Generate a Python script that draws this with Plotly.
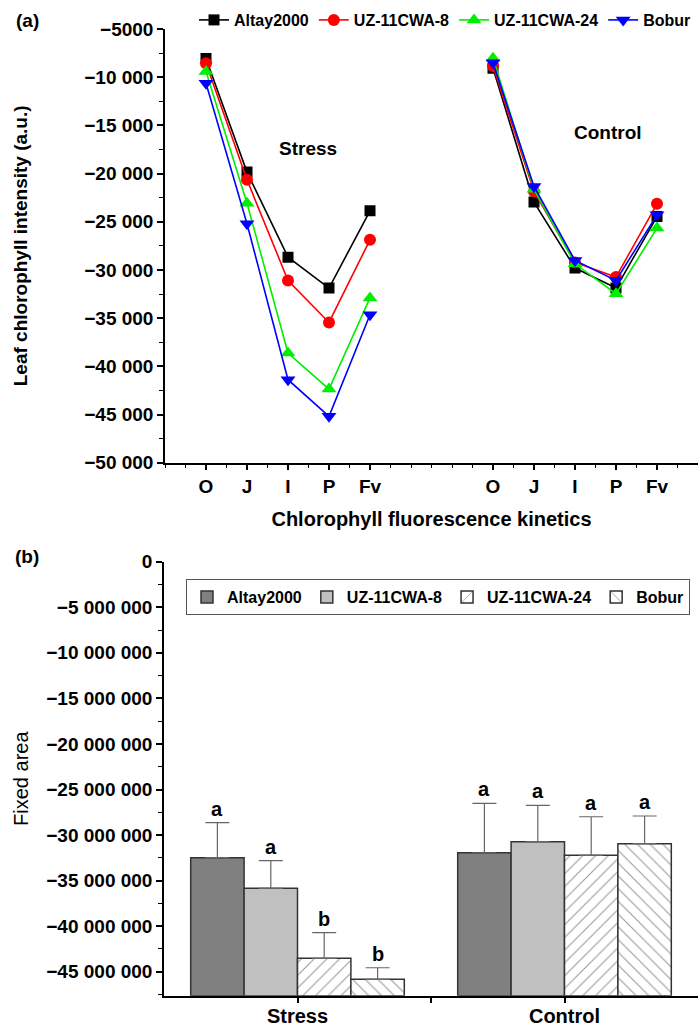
import plotly.graph_objects as go

W, H = 698, 1031

# ---------------- data ----------------
stages = ["O", "J", "I", "P", "Fv"]
cultivars = ["Altay2000", "UZ-11CWA-8", "UZ-11CWA-24", "Bobur"]

stress_altay = [-8060, -19850, -28670, -31880, -23870]
stress_uz8 = [-8550, -20650, -31090, -35450, -26870]
stress_uz24 = [-9420, -23070, -38620, -42360, -32900]
stress_bobur = [-10620, -25210, -41390, -45190, -34650]

control_altay = [-9070, -22960, -29800, -31880, -24460]
control_uz8 = [-8830, -21860, -29220, -30740, -23140]
control_uz24 = [-8030, -21620, -29360, -32470, -25660]
control_bobur = [-8490, -21340, -29020, -31090, -24280]

conditions = ["Stress", "Control"]
area_altay = [-32480000, -31940000]
area_uz8 = [-35850000, -30730000]
area_uz24 = [-43530000, -32220000]
area_bobur = [-45830000, -30950000]
err_altay = [3840000, 5420000]
err_uz8 = [3040000, 3990000]
err_uz24 = [2820000, 4230000]
err_bobur = [1270000, 3040000]
letters_altay = ["a", "a"]
letters_uz8 = ["a", "a"]
letters_uz24 = ["b", "a"]
letters_bobur = ["b", "a"]

# ---------------- styles ----------------
FONT = "Liberation Sans, Arial, sans-serif"
line_colors = ["#000000", "#ff0000", "#00ee00", "#0000ff"]
symbols = ["square", "circle", "triangle-up", "triangle-down"]
msizes = [11, 12, 13, 13]
Y2_MIN = -47630000

fig = go.Figure()

# ---------------- panel (a) ----------------
stress_sets = [stress_altay, stress_uz8, stress_uz24, stress_bobur]
control_sets = [control_altay, control_uz8, control_uz24, control_bobur]
n = len(stages)
x_stress = [i + 1 for i in range(n)]
x_control = [i + n + 3 for i in range(n)]

for k, name in enumerate(cultivars):
    fig.add_trace(go.Scatter(
        x=x_stress + [None] + x_control,
        y=stress_sets[k] + [None] + control_sets[k],
        mode="lines+markers",
        name=name,
        line=dict(color=line_colors[k], width=1.6),
        marker=dict(symbol=symbols[k], size=msizes[k], color=line_colors[k]),
        xaxis="x", yaxis="y",
        legend="legend",
    ))

# ---------------- panel (b) ----------------
areas = [area_altay, area_uz8, area_uz24, area_bobur]
errs = [err_altay, err_uz8, err_uz24, err_bobur]
letters = [letters_altay, letters_uz8, letters_uz24, letters_bobur]
bar_fill = ["#808080", "#c0c0c0", "#ffffff", "#ffffff"]
patterns = ["", "", "/", "\\"]
xc = list(range(len(conditions)))

for k, name in enumerate(cultivars):
    fig.add_trace(go.Bar(
        x=xc, y=[v - Y2_MIN for v in areas[k]], base=[Y2_MIN] * len(xc), name=name,
        marker=dict(color=bar_fill[k],
                    line=dict(color="#333333", width=1.5),
                    pattern=dict(shape=patterns[k], fgcolor="#333333",
                                 bgcolor="#ffffff", size=9, solidity=0.12)),
        error_y=dict(type="data", array=errs[k], arrayminus=[0] * len(errs[k]),
                     symmetric=False, color="#666666", thickness=1.2, width=12),
        xaxis="x2", yaxis="y2",
        legend="legend2",
    ))

nb = len(cultivars)
gap = 0.2
bw = (1 - gap) / nb
annotations = []
for k in range(nb):
    for i in xc:
        annotations.append(dict(
            x=i + (k - (nb - 1) / 2) * bw, y=areas[k][i] + errs[k][i],
            xref="x2", yref="y2", text=letters[k][i], showarrow=False,
            yanchor="bottom", yshift=1,
            font=dict(family=FONT, size=20, color="black", weight="bold")))

paper_notes = [
    ("Stress", 308, 148),
    ("Control", 608, 132),
    ("(a)", 27, 20),
    ("(b)", 27, 556),
]
for txt, px, py in paper_notes:
    annotations.append(dict(
        x=px / W, y=1 - py / H, xref="paper", yref="paper", text=txt,
        showarrow=False, xanchor="center", yanchor="middle",
        font=dict(family=FONT, size=19, color="black", weight="bold")))

tick_font = dict(family=FONT, size=19, color="black", weight="bold")
title_font = dict(family=FONT, size=19, color="black", weight="bold")

def px_x(p):
    return p / W

def px_y(p):
    return 1 - p / H

common = dict(showline=True, linecolor="black", linewidth=1.5,
              ticks="outside", ticklen=6, tickwidth=1.5, tickcolor="black",
              showgrid=False, zeroline=False, automargin=False,
              exponentformat="none")

fig.update_layout(
    width=W, height=H,
    margin=dict(l=0, r=0, t=0, b=0, autoexpand=False),
    paper_bgcolor="white", plot_bgcolor="white",
    separators=". ",
    barmode="group", bargap=gap, bargroupgap=0,
    annotations=annotations,
    xaxis=dict(
        domain=[px_x(165), 1], range=[0, 13], anchor="y",
        tickvals=x_stress + x_control, ticktext=stages + stages,
        minor=dict(dtick=0.5, tick0=0, ticks="outside", ticklen=4, tickwidth=1.2, tickcolor="black", showgrid=False),
        tickfont=tick_font,
        title=dict(text="Chlorophyll fluorescence kinetics", font=dict(family=FONT, size=20, color="black", weight="bold"), standoff=16),
        **common,
    ),
    yaxis=dict(
        domain=[px_y(462.7), px_y(29)], range=[-50000, -5000], anchor="x",
        dtick=5000, tick0=0,
        minor=dict(dtick=2500, ticks="outside", ticklen=4, tickwidth=1.2, tickcolor="black", showgrid=False),
        tickfont=tick_font,
        title=dict(text="Leaf chlorophyll intensity (a.u.)", font=title_font, standoff=52),
        **common,
    ),
    xaxis2=dict(
        domain=[px_x(164), 1], range=[-0.5, 1.5], anchor="y2",
        tickvals=[0, 0.5, 1], ticktext=[conditions[0], "", conditions[1]],
        tickfont=dict(family=FONT, size=20, color="black", weight="bold"),
        ticklabelstandoff=-4,
        **common,
    ),
    yaxis2=dict(
        domain=[px_y(995.7), px_y(561.7)], range=[Y2_MIN, 0], anchor="x2",
        dtick=5000000, tick0=0,
        minor=dict(dtick=2500000, ticks="outside", ticklen=4, tickwidth=1.2, tickcolor="black", showgrid=False),
        tickfont=tick_font,
        title=dict(text="Fixed area", font=dict(family=FONT, size=20, color="black"), standoff=12),
        **common,
    ),
    legend=dict(
        orientation="h", x=px_x(194), xanchor="left", y=px_y(3), yanchor="top",
        font=dict(family=FONT, size=16, color="black", weight="bold"),
        itemwidth=30, bgcolor="rgba(0,0,0,0)", tracegroupgap=0,
    ),
    legend2=dict(
        orientation="h", x=px_x(186), xanchor="left", y=px_y(579), yanchor="top",
        font=dict(family=FONT, size=16, color="black", weight="bold"),
        bordercolor="#555555", borderwidth=1, bgcolor="white",
        itemwidth=30,
    ),
    showlegend=True,
)

fig.write_html("out.html")
